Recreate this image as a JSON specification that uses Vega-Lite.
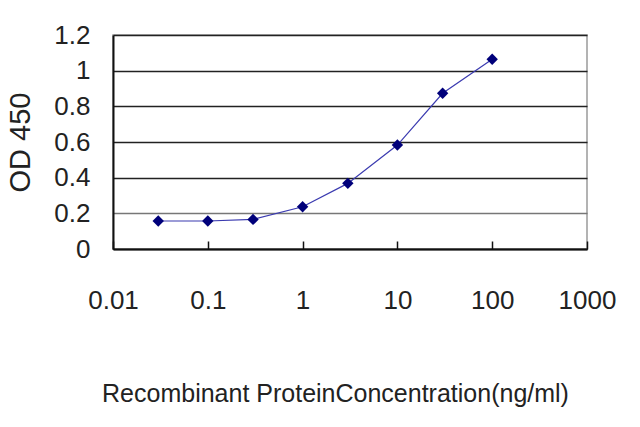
{
  "$schema": "https://vega.github.io/schema/vega-lite/v6.json",
  "width": 474,
  "height": 214,
  "autosize": "none",
  "padding": {"left": 113, "top": 35, "right": 53, "bottom": 178},
  "background": "white",
  "config": {
    "font": "Liberation Sans",
    "view": {"stroke": "#9a9a9a", "strokeWidth": 1.5}
  },
  "data": {
    "values": [
      {"conc": 0.03, "od": 0.157},
      {"conc": 0.1, "od": 0.157},
      {"conc": 0.3, "od": 0.166},
      {"conc": 1, "od": 0.237},
      {"conc": 3, "od": 0.368},
      {"conc": 10, "od": 0.583},
      {"conc": 30, "od": 0.873},
      {"conc": 100, "od": 1.064}
    ]
  },
  "encoding": {
    "x": {
      "field": "conc",
      "type": "quantitative",
      "scale": {"type": "log", "domain": [0.01, 1000], "nice": false},
      "title": "Recombinant ProteinConcentration(ng/ml)",
      "axis": {
        "values": [0.01, 0.1, 1, 10, 100, 1000],
        "format": "~g",
        "grid": false,
        "domainColor": "#111",
        "domainWidth": 2,
        "tickColor": "#111",
        "tickWidth": 1.5,
        "tickSize": -8,
        "labelPadding": 67,
        "labelBaseline": "alphabetic",
        "labelFontSize": 26,
        "labelColor": "#222",
        "labelFlush": false,
        "titleFontSize": 25,
        "titleFontWeight": "normal",
        "titleColor": "#222",
        "titleBaseline": "alphabetic",
        "titleAlign": "center",
        "titleX": 222,
        "titleY": 152
      }
    },
    "y": {
      "field": "od",
      "type": "quantitative",
      "scale": {"domain": [0, 1.2], "nice": false},
      "title": "OD 450",
      "axis": {
        "values": [0, 0.2, 0.4, 0.6, 0.8, 1, 1.2],
        "format": "~g",
        "grid": true,
        "gridColor": {"condition": {"test": "datum.value === 0.2", "value": "#777"}, "value": "#222"},
        "gridWidth": 1.5,
        "ticks": false,
        "domainColor": "#111",
        "domainWidth": 2,
        "labelPadding": 23,
        "labelFontSize": 26,
        "labelColor": "#222",
        "titleFontSize": 29,
        "titleFontWeight": "normal",
        "titleColor": "#222",
        "titlePadding": 18
      }
    }
  },
  "layer": [
    {"mark": {"type": "line", "color": "#3b3bb0", "strokeWidth": 1.2}},
    {"mark": {"type": "point", "shape": "diamond", "filled": true, "size": 130, "color": "#00007a", "opacity": 1}}
  ]
}
